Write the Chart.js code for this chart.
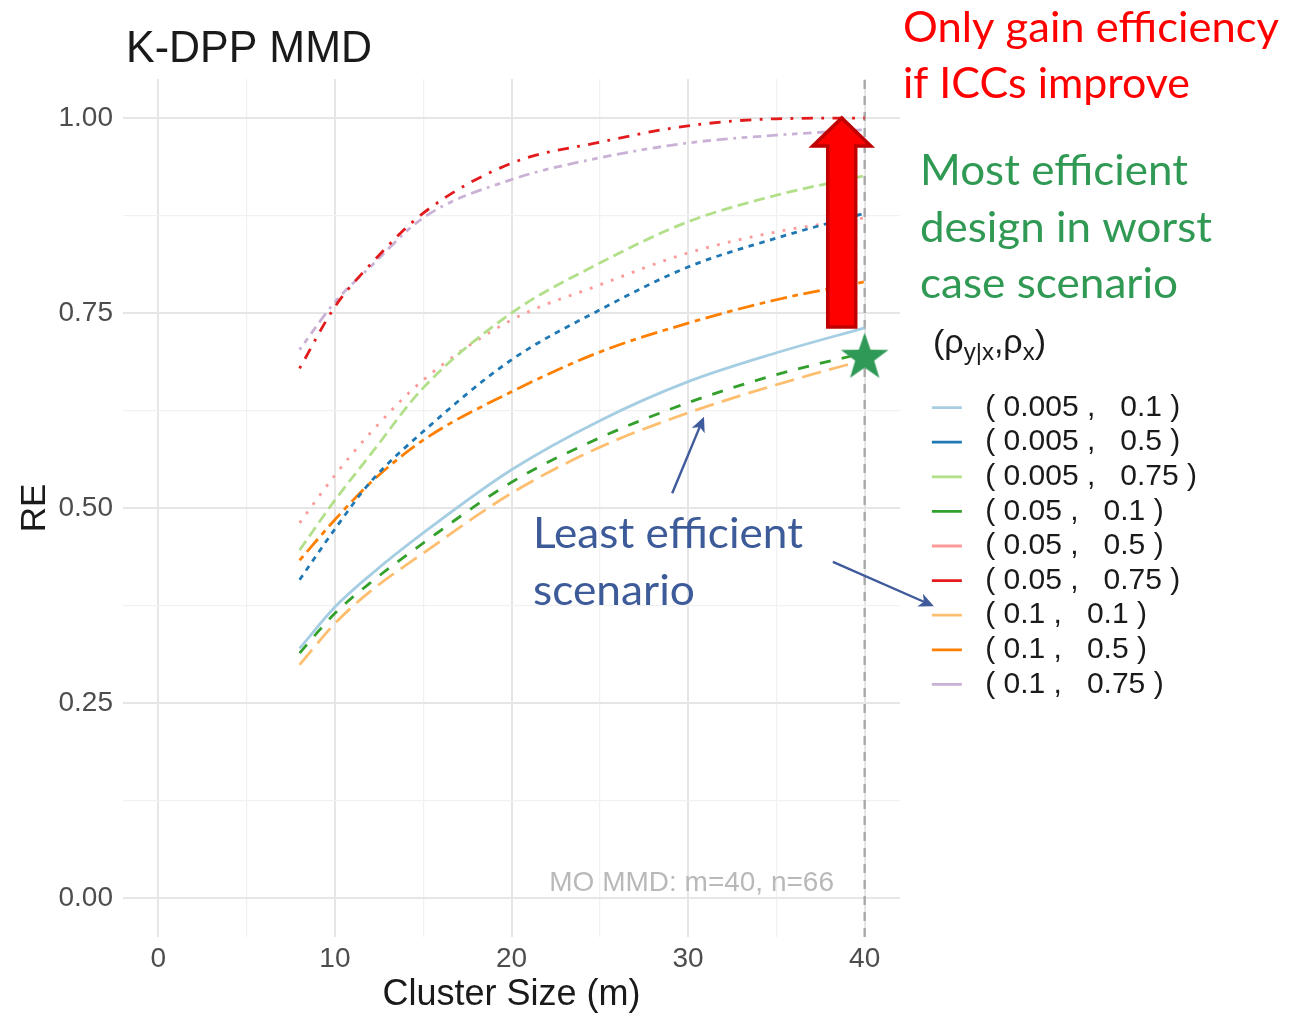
<!DOCTYPE html>
<html>
<head>
<meta charset="utf-8">
<script src="https://cdn.jsdelivr.net/npm/chart.js@4.4.1/dist/chart.umd.min.js"></script>
<style>
  html, body { margin: 0; padding: 0; background: #fff; }
  #wrap { width: 1309px; height: 1013px; }
</style>
</head>
<body>
<div id="wrap"><canvas id="reChart" width="1309" height="1013"></canvas></div>
<script>
const clusterSizes = [8, 10, 12, 15, 20, 25, 30, 35, 40];

// RE per (rho_y|x, rho_x) pair
const re_005_01 = [0.320, 0.373, 0.414, 0.468, 0.549, 0.612, 0.662, 0.699, 0.731];
const re_005_05 = [0.408, 0.473, 0.533, 0.598, 0.690, 0.754, 0.809, 0.846, 0.878];
const re_005_075 = [0.446, 0.510, 0.568, 0.654, 0.750, 0.814, 0.867, 0.901, 0.926];
const re_05_01 = [0.314, 0.365, 0.404, 0.455, 0.533, 0.590, 0.635, 0.671, 0.699];
const re_05_05 = [0.481, 0.542, 0.596, 0.664, 0.741, 0.786, 0.827, 0.854, 0.872];
const re_05_075 = [0.679, 0.758, 0.812, 0.878, 0.942, 0.969, 0.990, 0.999, 1.000];
const re_1_01 = [0.299, 0.352, 0.393, 0.442, 0.519, 0.578, 0.622, 0.658, 0.690];
const re_1_05 = [0.433, 0.485, 0.532, 0.587, 0.649, 0.700, 0.737, 0.767, 0.790];
const re_1_075 = [0.703, 0.764, 0.809, 0.872, 0.921, 0.949, 0.968, 0.978, 0.985];

const pairLabels = [
  " ( 0.005 ,   0.1 )", " ( 0.005 ,   0.5 )", " ( 0.005 ,   0.75 )",
  " ( 0.05 ,   0.1 )", " ( 0.05 ,   0.5 )", " ( 0.05 ,   0.75 )",
  " ( 0.1 ,   0.1 )", " ( 0.1 ,   0.5 )", " ( 0.1 ,   0.75 )"
];

const xTicks = [0, 10, 20, 30, 40];
const yTickLabels = ["0.00", "0.25", "0.50", "0.75", "1.00"];

// MO MMD reference design and the marked best design
const moClusterSize = 40;
const bestDesign = [40, 0.694];

const allSeries = [re_005_01, re_005_05, re_005_075, re_05_01, re_05_05, re_05_075, re_1_01, re_1_05, re_1_075];

// Paired palette + ggplot linetypes
const colors = ["#A6CEE3", "#1F78B4", "#B2DF8A", "#33A02C", "#FB9A99", "#E31A1C", "#FDBF6F", "#FF7F00", "#CAB2D6"];
const u = 2.8;
const dashes = [
  [],
  [2, 2],
  [4, 2],
  [4, 4],
  [1, 3],
  [1, 3, 4, 3],
  [7, 3],
  [2, 2, 6, 2],
  [1, 2, 2, 2, 3, 2, 4, 2]
].map(d => d.map(v => v * u));

const PAD_RIGHT = 102;
const PLOT_RIGHT = 900;

// green star used as the point style
const starImg = document.createElement("canvas");
starImg.width = 54;
starImg.height = 54;
(function () {
  const c = starImg.getContext("2d");
  c.fillStyle = "#2f9a57";
  c.beginPath();
  for (let i = 0; i < 10; i++) {
    const r = i % 2 === 0 ? 25 : 10;
    const a = -Math.PI / 2 + i * Math.PI / 5;
    const px = 27 + r * Math.cos(a), py = 28 + r * Math.sin(a);
    if (i === 0) c.moveTo(px, py); else c.lineTo(px, py);
  }
  c.closePath();
  c.fill();
})();

const datasets = allSeries.map((vals, i) => ({
  label: pairLabels[i],
  data: clusterSizes.map((m, j) => ({ x: m, y: vals[j] })),
  borderColor: colors[i],
  backgroundColor: colors[i],
  borderDash: dashes[i],
  borderWidth: 2.8,
  borderCapStyle: "butt",
  pointRadius: 0,
  cubicInterpolationMode: "monotone",
  fill: false
}));

datasets.push({
  label: "mo",
  hideInLegend: true,
  data: [{ x: moClusterSize, y: -0.05 }, { x: moClusterSize, y: 1.05 }],
  borderColor: "#a9a9a9",
  borderDash: [9, 7],
  borderWidth: 2.4,
  pointRadius: 0,
  order: 5
});

datasets.push({
  label: "best",
  hideInLegend: true,
  data: [{ x: bestDesign[0], y: bestDesign[1] }],
  showLine: false,
  pointStyle: starImg,
  pointRadius: 25,
  order: -1
});

function blueArrow(ctx, x1, y1, x2, y2) {
  const ang = Math.atan2(y2 - y1, x2 - x1);
  const head = 15, half = 7;
  const bx = x2 - head * Math.cos(ang), by = y2 - head * Math.sin(ang);
  ctx.strokeStyle = "#3f5b9b";
  ctx.fillStyle = "#3f5b9b";
  ctx.lineWidth = 2.4;
  ctx.beginPath();
  ctx.moveTo(x1, y1);
  ctx.lineTo(bx + 4 * Math.cos(ang), by + 4 * Math.sin(ang));
  ctx.stroke();
  ctx.beginPath();
  ctx.moveTo(x2, y2);
  ctx.lineTo(bx - half * Math.sin(ang), by + half * Math.cos(ang));
  ctx.lineTo(bx + 4 * Math.cos(ang), by + 4 * Math.sin(ang));
  ctx.lineTo(bx + half * Math.sin(ang), by - half * Math.cos(ang));
  ctx.closePath();
  ctx.fill();
}

// draw text stretched/squeezed to a given width
function fitText(ctx, text, x, y, width) {
  const w = ctx.measureText(text).width;
  ctx.save();
  ctx.translate(x, y);
  ctx.scale(width / w, 1);
  ctx.fillText(text, 0, 0);
  ctx.restore();
}

const annotations = {
  id: "annotations",
  afterDraw(chart) {
    const { ctx, scales: { x, y } } = chart;
    ctx.save();
    ctx.textBaseline = "alphabetic";
    ctx.textAlign = "left";

    // title
    ctx.fillStyle = "#1a1a1a";
    ctx.font = '45px "Liberation Sans", Arial, sans-serif';
    fitText(ctx, "K-DPP MMD", 126, 62, 246);

    // MO MMD label
    ctx.font = '28px "Liberation Sans", Arial, sans-serif';
    ctx.fillStyle = "#b9b9b9";
    ctx.textAlign = "center";
    ctx.textBaseline = "middle";
    ctx.fillText("MO MMD: m=40, n=66", x.getPixelForValue(30.2), y.getPixelForValue(0.019));

    // legend title with subscripts
    ctx.textAlign = "left";
    ctx.textBaseline = "alphabetic";
    ctx.fillStyle = "#1a1a1a";
    let cx = 933;
    const base = 353;
    const part = (t, size, dy) => {
      ctx.font = size + 'px "Liberation Sans", Arial, sans-serif';
      ctx.fillText(t, cx, base + dy);
      cx += ctx.measureText(t).width;
    };
    part("(ρ", 34, 0);
    part("y|x", 24, 7);
    part(",ρ", 34, 0);
    part("x", 24, 7);
    part(")", 34, 0);

    // red arrow
    const ax = x.getPixelForValue(38.7);
    const tip = y.getPixelForValue(1.0);
    const bot = y.getPixelForValue(0.732);
    ctx.beginPath();
    ctx.moveTo(ax - 14, bot);
    ctx.lineTo(ax - 14, tip + 28);
    ctx.lineTo(ax - 29, tip + 28);
    ctx.lineTo(ax, tip);
    ctx.lineTo(ax + 29, tip + 28);
    ctx.lineTo(ax + 14, tip + 28);
    ctx.lineTo(ax + 14, bot);
    ctx.closePath();
    ctx.fillStyle = "#ff0000";
    ctx.fill();
    ctx.lineWidth = 3.5;
    ctx.strokeStyle = "#c00000";
    ctx.stroke();

    // blue arrows
    blueArrow(ctx, x.getPixelForValue(29.1), y.getPixelForValue(0.519), x.getPixelForValue(30.9), y.getPixelForValue(0.617));
    const hb = chart.legend.legendHitBoxes[6];
    blueArrow(ctx, x.getPixelForValue(38.2), y.getPixelForValue(0.431), hb.left + 2, hb.top + hb.height / 2 - 9);

    // side notes
    ctx.font = '43px Lato, sans-serif';
    ctx.fillStyle = "#ff0000";
    fitText(ctx, "Only gain efficiency", 903, 42, 376);
    fitText(ctx, "if ICCs improve", 903, 98, 287);

    ctx.fillStyle = "#309954";
    fitText(ctx, "Most efficient", 920, 185, 268);
    fitText(ctx, "design in worst", 920, 242, 292);
    fitText(ctx, "case scenario", 920, 298, 258);

    ctx.fillStyle = "#3d5a99";
    fitText(ctx, "Least efficient", 533, 548, 270);
    fitText(ctx, "scenario", 533, 605, 162);

    ctx.restore();
  }
};

Chart.defaults.font.family = '"Liberation Sans", Arial, sans-serif';

new Chart(document.getElementById("reChart"), {
  type: "line",
  data: { datasets: datasets },
  options: {
    responsive: false,
    animation: false,
    devicePixelRatio: 1,
    layout: { padding: { top: 79, left: 0, bottom: 0, right: PAD_RIGHT } },
    scales: {
      x: {
        type: "linear",
        min: -2,
        max: 42,
        border: { display: false },
        grid: {
          drawTicks: false,
          color: (c) => xTicks.includes(c.tick && c.tick.value) ? "#e6e6e6" : "#f1f1f1",
          lineWidth: (c) => xTicks.includes(c.tick && c.tick.value) ? 2 : 1.2
        },
        ticks: {
          stepSize: 5,
          includeBounds: false,
          autoSkip: false,
          maxRotation: 0,
          padding: 5,
          color: "#4d4d4d",
          font: { size: 28 },
          callback: (v) => xTicks.includes(v) ? String(v) : ""
        },
        title: {
          display: true,
          text: "Cluster Size (m)",
          color: "#1a1a1a",
          font: { size: 36, lineHeight: 1 },
          padding: { top: 0, bottom: 0 }
        },
        afterFit: (s) => { s.height = 76; }
      },
      y: {
        min: -0.05,
        max: 1.05,
        border: { display: false },
        grid: {
          drawTicks: false,
          color: (c) => (c.tick && Math.round(c.tick.value * 8) % 2 === 0) ? "#e6e6e6" : "#f1f1f1",
          lineWidth: (c) => (c.tick && Math.round(c.tick.value * 8) % 2 === 0) ? 2 : 1.2
        },
        ticks: {
          stepSize: 0.125,
          includeBounds: false,
          autoSkip: false,
          padding: 10,
          color: "#4d4d4d",
          font: { size: 28 },
          callback: (v) => {
            const k = Math.round(v * 8);
            return k % 2 === 0 ? yTickLabels[k / 2] : "";
          }
        },
        title: {
          display: true,
          text: "RE",
          color: "#1a1a1a",
          font: { size: 35, lineHeight: 1 },
          padding: { top: 18, bottom: 0 }
        },
        afterFit: (s) => { s.width = 123; }
      },
      // empty spacer between the panel and the legend
      gap: {
        type: "linear",
        axis: "y",
        position: "right",
        display: "auto",
        border: { display: false },
        grid: { display: false },
        ticks: { display: false },
        afterFit: (s) => {
          const lw = s.chart.legend ? s.chart.legend.width : 0;
          s.width = Math.max(0, 1309 - PAD_RIGHT - lw - PLOT_RIGHT);
        }
      }
    },
    plugins: {
      tooltip: { enabled: false },
      title: { display: false },
      legend: {
        position: "right",
        align: "center",
        maxWidth: 340,
        labels: {
          filter: (item, data) => !data.datasets[item.datasetIndex].hideInLegend,
          usePointStyle: true,
          pointStyle: "line",
          pointStyleWidth: 30,
          padding: 4.6,
          color: "#1a1a1a",
          font: { size: 30 }
        }
      }
    }
  },
  plugins: [annotations]
});
</script>
</body>
</html>
